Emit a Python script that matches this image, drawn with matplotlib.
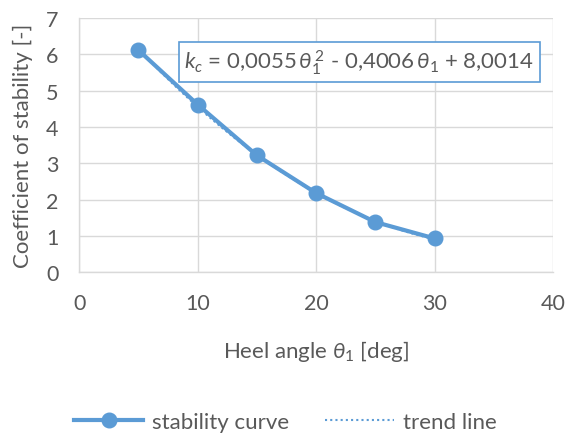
import numpy as np
import matplotlib
matplotlib.use("Agg")
import matplotlib.pyplot as plt

heel_angle = [5, 10, 15, 20, 25, 30]
stability = [6.12, 4.62, 3.22, 2.18, 1.38, 0.93]
x_ticks = [0, 10, 20, 30, 40]
y_ticks = [0, 1, 2, 3, 4, 5, 6, 7]

blue = "#5b9bd5"
gray_text = "#595959"
grid_col = "#d9d9d9"

plt.rcParams['font.family'] = ['Lato', 'DejaVu Sans']
plt.rcParams['mathtext.fontset'] = 'custom'
plt.rcParams['mathtext.it'] = 'Lato:italic'
plt.rcParams['mathtext.rm'] = 'Lato'

fig = plt.figure(figsize=(5.65, 4.35), dpi=100)
ax = fig.add_axes([0.14, 0.372, 0.839, 0.584])

coef = np.polyfit(heel_angle, stability, 2)
xt = np.linspace(min(heel_angle), max(heel_angle), 200)

ax.plot(heel_angle, stability, color=blue, lw=3, marker='o', ms=10.5,
        label='stability curve', zorder=3)
ax.plot(xt, np.polyval(coef, xt), color=blue, lw=1.5, ls=(0, (1, 1.5)),
        label='trend line', zorder=4)

ax.set_xlim(0, 40)
ax.set_ylim(0, 7)
ax.set_xticks(x_ticks)
ax.set_yticks(y_ticks)
ax.grid(True, color=grid_col, lw=1)
ax.set_axisbelow(True)
for s in ['top', 'right']:
    ax.spines[s].set_visible(False)
for s in ['left', 'bottom']:
    ax.spines[s].set_color(grid_col)
    ax.spines[s].set_linewidth(1)
ax.tick_params(axis='both', length=0, labelsize=15.5, colors=gray_text)
ax.tick_params(axis='x', pad=15)
ax.tick_params(axis='y', pad=15)

ax.set_xlabel(r'Heel angle $\theta_1$ [deg]', fontsize=16, color=gray_text, labelpad=18)
ax.set_ylabel('Coefficient of stability [-]', fontsize=16, color=gray_text, labelpad=9)

ax.text(0.222, 0.827,
        r'$k_c$ = 0,0055$\,\theta_1^{\,2}$ - 0,4006$\,\theta_1$ + 8,0014',
        transform=ax.transAxes, fontsize=16, color=gray_text, va='center', ha='left',
        bbox=dict(boxstyle='square,pad=0.25', fc='white', ec=blue, lw=1.2), zorder=5)

leg = fig.legend(loc='center', bbox_to_anchor=(0.505, 1 - 423/435), ncol=2, frameon=False,
                 fontsize=16, handlelength=3.1, handletextpad=0.4, columnspacing=1.6)
for t in leg.get_texts():
    t.set_color(gray_text)

fig.savefig('out.png', dpi=100)
